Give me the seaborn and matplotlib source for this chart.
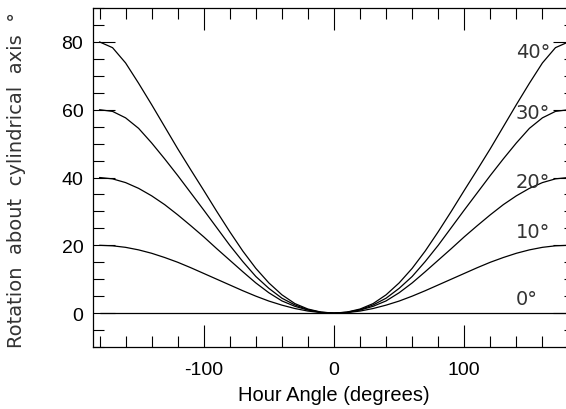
import numpy as np
import pandas as pd
import matplotlib
matplotlib.use("Agg")
import matplotlib.pyplot as plt
import seaborn as sns
from matplotlib.ticker import MultipleLocator, FixedLocator

# hour angle samples (degrees)
hour_angle = [-180, -170, -160, -150, -140, -130, -120, -110, -100, -90,
              -80, -70, -60, -50, -40, -30, -20, -10, 0,
              10, 20, 30, 40, 50, 60, 70, 80, 90,
              100, 110, 120, 130, 140, 150, 160, 170, 180]

# rotation, one list per latitude
rot_lat0 = [0.0] * 37
rot_lat10 = [20.0, 19.85, 19.4, 18.65, 17.65, 16.4, 15.0, 13.4, 11.7, 10.0,
             8.3, 6.6, 5.0, 3.55, 2.35, 1.35, 0.6, 0.15, 0.0,
             0.15, 0.6, 1.35, 2.35, 3.55, 5.0, 6.6, 8.3, 10.0,
             11.7, 13.4, 15.0, 16.4, 17.65, 18.65, 19.4, 19.85, 20.0]
rot_lat20 = [40.0, 39.6, 38.5, 36.8, 34.6, 32.0, 29.0, 25.8, 22.5, 19.0,
             15.6, 12.2, 8.9, 6.0, 3.6, 2.0, 0.9, 0.2, 0.0,
             0.2, 0.9, 2.0, 3.6, 6.0, 8.9, 12.2, 15.6, 19.0,
             22.5, 25.8, 29.0, 32.0, 34.6, 36.8, 38.5, 39.6, 40.0]
rot_lat30 = [60.0, 59.5, 57.6, 54.5, 50.2, 45.5, 40.6, 35.5, 30.4, 25.2,
             20.0, 15.2, 10.8, 7.3, 4.4, 2.4, 1.0, 0.25, 0.0,
             0.25, 1.0, 2.4, 4.4, 7.3, 10.8, 15.2, 20.0, 25.2,
             30.4, 35.5, 40.6, 45.5, 50.2, 54.5, 57.6, 59.5, 60.0]
rot_lat40 = [80.0, 78.3, 73.8, 67.8, 61.5, 55.0, 48.5, 42.3, 36.2, 30.0,
             24.0, 18.3, 13.2, 8.9, 5.4, 2.8, 1.2, 0.3, 0.0,
             0.3, 1.2, 2.8, 5.4, 8.9, 13.2, 18.3, 24.0, 30.0,
             36.2, 42.3, 48.5, 55.0, 61.5, 67.8, 73.8, 78.3, 80.0]

latitudes = ["0°", "10°", "20°", "30°", "40°"]
label_y = [4.3, 24.2, 38.8, 59.1, 77.2]

series = [rot_lat0, rot_lat10, rot_lat20, rot_lat30, rot_lat40]
df = pd.concat([pd.DataFrame({"hour_angle": hour_angle, "rotation": s, "latitude": lat})
                for s, lat in zip(series, latitudes)], ignore_index=True)

sns.set_style("ticks")
plt.rcParams["font.family"] = ["DejaVu Sans"]
plt.rcParams["axes.unicode_minus"] = False

fig = plt.figure(figsize=(5.66, 4.10), dpi=100)
ax = fig.add_axes([93 / 566, 62 / 410, 482 / 566, 339 / 410])

sns.lineplot(data=df, x="hour_angle", y="rotation", hue="latitude",
             palette=["black"] * 5, legend=False, linewidth=0.9, ax=ax)

for lat, y in zip(latitudes, label_y):
    ax.text(139.5, y, lat, ha="left", va="center", fontsize=14,
            color="#333333")

ax.set_xlim(-185, 185)
ax.set_ylim(-10, 90)
ax.xaxis.set_major_locator(FixedLocator([-100, 0, 100]))
ax.xaxis.set_minor_locator(MultipleLocator(20))
ax.yaxis.set_major_locator(MultipleLocator(20))
ax.yaxis.set_minor_locator(MultipleLocator(5))
ax.set_yticks([0, 20, 40, 60, 80])

for side in ["top", "right", "bottom", "left"]:
    ax.spines[side].set_visible(True)
    ax.spines[side].set_linewidth(0.9)
    ax.spines[side].set_color("black")

ax.tick_params(which="both", direction="in", top=True, right=True,
               width=0.8, color="black", labelcolor="black")
ax.tick_params(which="major", length=15.5)
ax.tick_params(which="minor", length=7.8)
ax.tick_params(axis="x", which="major", pad=10)
ax.tick_params(axis="y", which="major", pad=7)
for t in ax.get_xticklabels() + ax.get_yticklabels():
    t.set_fontfamily("Liberation Sans")
    t.set_fontsize(14)

ax.set_xlabel("Hour Angle (degrees)", fontsize=14.5, family="Liberation Sans",
              color="black", labelpad=5)
ax.set_ylabel("")
fig.text(17 / 566, 1 - 180 / 410, "Rotation  about  cylindrical  axis  °",
         rotation=90, ha="center", va="center", fontsize=14,
         color="#333333")

fig.savefig("out.png", dpi=100)
plt.close(fig)
